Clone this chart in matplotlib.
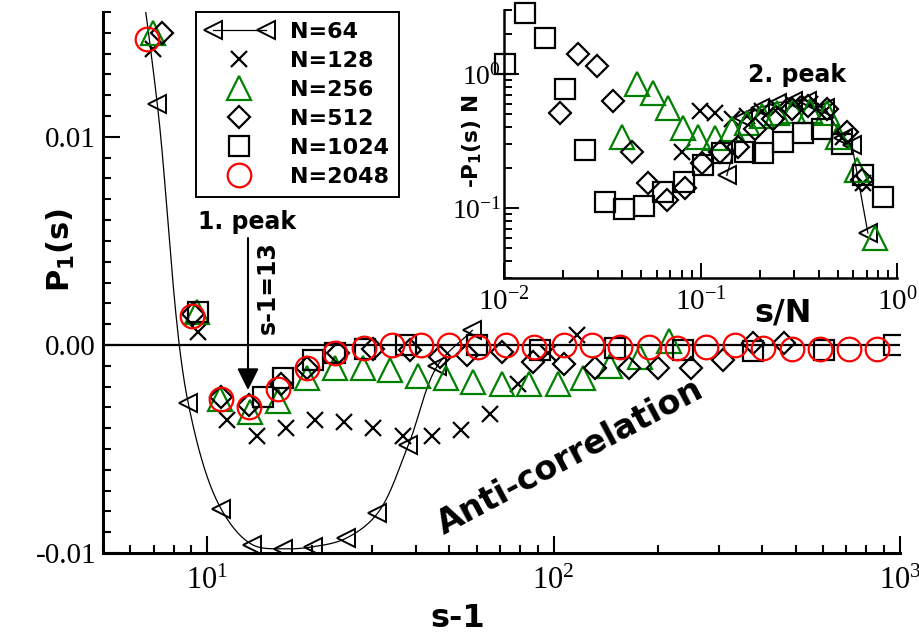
import numpy as np
import matplotlib
matplotlib.use("Agg")
import matplotlib.pyplot as plt
from matplotlib.lines import Line2D
from matplotlib.legend_handler import HandlerLine2D
from matplotlib.ticker import MultipleLocator, FuncFormatter, LogLocator, NullFormatter

plt.rcParams["font.family"] = ["Liberation Serif", "DejaVu Serif"]
plt.rcParams["mathtext.fontset"] = "custom"
plt.rcParams["mathtext.rm"] = "Liberation Serif"
plt.rcParams["mathtext.bf"] = "DejaVu Sans:bold"

# --- main panel: P1(s) against s-1 -------------------------------------------
s64 = [6.0, 7.17, 8.81, 10.98, 13.5, 16.6, 20.2, 25.1, 31.0, 38.1, 46.2, 58.3]
p64 = [0.0215, 0.0116, -0.0028, -0.0079, -0.0096, -0.0098, -0.0097, -0.0093,
       -0.0081, -0.0048, -0.0010, 0.0007]

s128 = [6.98, 9.42, 11.4, 13.9, 16.9, 20.5, 24.9, 30.2, 36.8, 44.7, 53.9, 65.7,
        79.1, 96.1, 117]
p128 = [0.0142, 0.0006, -0.0036, -0.0044, -0.0040, -0.0036, -0.0037, -0.0040,
        -0.0044, -0.0044, -0.0041, -0.0033, -0.0019, -0.0004, 0.0005]

s256 = [6.98, 9.36, 10.9, 13.3, 16.0, 19.45, 23.4, 28.1, 33.8, 40.7, 48.8, 58.7,
        71.2, 84.7, 103, 122, 146, 178, 215]
p256 = [0.0150, 0.0016, -0.0026, -0.0032, -0.0027, -0.0016, -0.0011, -0.0011,
        -0.0012, -0.0015, -0.0016, -0.0018, -0.0019, -0.0019, -0.0019, -0.0016,
        -0.0010, -0.0006, 0.0002]

s512 = [7.41, 9.11, 10.98, 13.23, 16.3, 19.45, 23.9, 30.2, 38.6, 47.1, 56.4, 71.2,
        87.5, 107, 132, 165, 201, 249, 308, 378, 462]
p512 = [0.0150, 0.0015, -0.0025, -0.0029, -0.0019, -0.0011, -0.0004, -0.0002,
        -0.00024, -0.0006, -0.0005, -0.00034, -0.0008, -0.0009, -0.0011, -0.0011,
        -0.0011, -0.0011, -0.0007, 0.0001, 0.0001]

s1024 = [9.4, 14.5, 16.6, 20.2, 23.4, 28.6, 37.4, 60.3, 91.7, 151, 236, 378, 603, 961]
p1024 = [0.0016, -0.0025, -0.0016, -0.0007, -0.0004, -0.0002, 0.0, 0.0, -0.00024,
         -0.00015, -0.00024, -0.0003, -0.00024, 0.0]

s2048 = [6.7, 9.05, 10.98, 13.2, 16.0, 19.4, 23.4, 28.3, 34.2, 41.4, 50, 60.5, 73,
         88, 107, 129, 156, 189, 228, 276, 334, 404, 488, 590, 713, 862]
p2048 = [0.0147, 0.0014, -0.0026, -0.0030, -0.0021, -0.0011, -0.0004, -0.00015,
         0.0, 0.0, 0.0, -0.0001, 0.0, -0.0001, 0.0, 0.0, -0.0001, -0.0001, -0.00015,
         -0.0001, 0.0, -0.00015, -0.0002, -0.0002, -0.0002, -0.0002]

# --- inset: -P1(s) N against s/N ---------------------------------------------
sn64 = [0.136, 0.164, 0.20, 0.245, 0.296, 0.348, 0.43, 0.531, 0.59, 0.711]
pn64 = [0.175, 0.472, 0.56, 0.61, 0.63, 0.63, 0.56, 0.33, 0.293, 0.065]

sn128 = [0.0806, 0.0994, 0.119, 0.145, 0.172, 0.206, 0.248, 0.296, 0.361, 0.43,
         0.531, 0.671]
pn128 = [0.26, 0.532, 0.514, 0.464, 0.489, 0.532, 0.56, 0.60, 0.60, 0.532, 0.336, 0.153]

sn256 = [0.0399, 0.0476, 0.0573, 0.0684, 0.0815, 0.097, 0.119, 0.145, 0.172, 0.206,
         0.245, 0.296, 0.361, 0.44, 0.501, 0.626, 0.772]
pn256 = [0.336, 0.843, 0.723, 0.56, 0.398, 0.336, 0.33, 0.39, 0.434, 0.489, 0.514,
         0.532, 0.532, 0.514, 0.336, 0.191, 0.06]

sn512 = [0.0193, 0.0238, 0.0297, 0.0359, 0.0448, 0.054, 0.0676, 0.0835, 0.102, 0.126,
         0.155, 0.189, 0.234, 0.292, 0.352, 0.44, 0.557, 0.664]
pn512 = [0.514, 1.41, 1.15, 0.63, 0.26, 0.153, 0.115, 0.141, 0.216, 0.26, 0.283,
         0.39, 0.464, 0.55, 0.58, 0.55, 0.366, 0.161]

sn1024 = [0.0101, 0.0128, 0.0162, 0.0204, 0.0258, 0.0327, 0.0408, 0.0516, 0.0644,
          0.0824, 0.103, 0.129, 0.168, 0.208, 0.263, 0.333, 0.415, 0.525, 0.671, 0.849]
pn1024 = [1.19, 2.83, 1.85, 0.774, 0.269, 0.111, 0.098, 0.103, 0.131, 0.156, 0.208,
          0.255, 0.26, 0.255, 0.308, 0.36, 0.39, 0.30, 0.175, 0.12]

labels = ["N=64", "N=128", "N=256", "N=512", "N=1024", "N=2048"]

GREEN = "#008000"
RED = "#ff0000"
SANS = dict(family="DejaVu Sans", weight="bold")

styles = {
    "N=64": dict(marker="<", ms=13, mfc="none", mec="k", mew=1.4),
    "N=128": dict(marker="x", ms=11, mec="k", mew=1.6),
    "N=256": dict(marker="^", ms=17, mfc="none", mec=GREEN, mew=1.6),
    "N=512": dict(marker="D", ms=11, mfc="none", mec="k", mew=1.6),
    "N=1024": dict(marker="s", ms=15, mfc="none", mec="k", mew=1.6),
    "N=2048": dict(marker="o", ms=17, mfc="none", mec=RED, mew=1.6),
}


def catmull_rom(P, n=24, alpha=0.5):
    """Centripetal Catmull-Rom through display-space points (smooth N=64 curve)."""
    P = np.vstack([2 * P[0] - P[1], P, 2 * P[-1] - P[-2]])
    out = []
    for i in range(len(P) - 3):
        p0, p1, p2, p3 = P[i:i + 4]
        t0 = 0.0
        t1 = t0 + np.linalg.norm(p1 - p0) ** alpha
        t2 = t1 + np.linalg.norm(p2 - p1) ** alpha
        t3 = t2 + np.linalg.norm(p3 - p2) ** alpha
        t = np.linspace(t1, t2, n, endpoint=False)[:, None]
        a1 = (t1 - t) / (t1 - t0) * p0 + (t - t0) / (t1 - t0) * p1
        a2 = (t2 - t) / (t2 - t1) * p1 + (t - t1) / (t2 - t1) * p2
        a3 = (t3 - t) / (t3 - t2) * p2 + (t - t2) / (t3 - t2) * p3
        b1 = (t2 - t) / (t2 - t0) * a1 + (t - t0) / (t2 - t0) * a2
        b2 = (t3 - t) / (t3 - t1) * a2 + (t - t1) / (t3 - t1) * a3
        out.append((t2 - t) / (t2 - t1) * b1 + (t - t1) / (t2 - t1) * b2)
    out.append(P[-2][None])
    return np.vstack(out)


def style_axes(ax, spine_w, major_len, minor_len, tick_w, pad, size):
    for side in ("top", "right"):
        ax.spines[side].set_visible(False)
    for side in ("left", "bottom"):
        ax.spines[side].set_linewidth(spine_w)
    ax.tick_params(which="both", direction="in", top=False, right=False,
                   width=tick_w, labelsize=size, pad=pad)
    ax.tick_params(which="major", length=major_len)
    ax.tick_params(which="minor", length=minor_len)


fig = plt.figure(figsize=(9.2, 6.42), dpi=100)
ax = fig.add_axes([0.112, 0.1386, 0.866, 0.8427])

ax.set_xscale("log")
ax.set_xlim(5, 1000)
ax.set_ylim(-0.01, 0.016)
ax.yaxis.set_major_locator(MultipleLocator(0.01))
ax.yaxis.set_minor_locator(MultipleLocator(0.001))
ax.yaxis.set_major_formatter(FuncFormatter(lambda v, _: "%.2f" % v if abs(v) > 1e-9 else "0.00"))
ax.xaxis.set_major_locator(LogLocator(base=10))
ax.xaxis.set_minor_locator(LogLocator(base=10, subs=np.arange(2, 10)))
ax.xaxis.set_minor_formatter(NullFormatter())
style_axes(ax, 2.2, 12, 6, 1.5, 10, 22)
ax.tick_params(axis="y", pad=5, labelsize=21)

ax.axhline(0, color="k", lw=1.6, zorder=1.5)

# N=64 drawn as a smooth curve through its points, like the original plot
pts = ax.transData.transform(np.column_stack([s64, p64]))
curve = ax.transData.inverted().transform(catmull_rom(pts))
ax.plot(curve[:, 0], curve[:, 1], color="k", lw=0.9, zorder=2)

main_series = [(s64, p64), (s128, p128), (s256, p256), (s512, p512),
               (s1024, p1024), (s2048, p2048)]
for lab, (xs, ys) in zip(labels, main_series):
    ax.plot(xs, ys, ls="none", zorder=3, **styles[lab])

# legend: N=64 shows the line with a marker at each end, the rest a single marker
handles = [Line2D([], [], color="k", lw=0.9, label=labels[0], **styles[labels[0]])]
handles += [Line2D([], [], ls="none", label=lab, **styles[lab]) for lab in labels[1:]]
hmap = {h: HandlerLine2D(numpoints=1) for h in handles[1:]}
leg = ax.legend(handles=handles, handler_map=hmap, numpoints=2, loc="upper left",
                bbox_to_anchor=(0.213, 0.981), bbox_transform=fig.transFigure,
                borderaxespad=0, prop=dict(size=16, **SANS), frameon=True,
                fancybox=False, edgecolor="k", framealpha=1, handlelength=3.0,
                handletextpad=0.8, labelspacing=0.4, borderpad=0.45)
leg.get_frame().set_linewidth(1.4)

fig.text(0.066, 0.611, r"P$_\mathbf{1}$(s)", rotation=90, ha="center", va="center",
         fontsize=22, **SANS)
fig.text(0.498, 0.037, "s-1", ha="center", va="center", fontsize=23, **SANS)

fig.text(247 / 920, 1 - 222 / 642, "1. peak", ha="center", va="center", fontsize=17, **SANS)
fig.text(268 / 920, 1 - 288 / 642, "s-1=13", rotation=90, ha="center", va="center",
         fontsize=17, **SANS)
ax.annotate("", xy=(248 / 920, 1 - 390 / 642), xytext=(248 / 920, 1 - 238 / 642),
            xycoords="figure fraction", textcoords="figure fraction",
            arrowprops=dict(arrowstyle="-|>,head_length=0.6,head_width=0.3",
                            mutation_scale=22, color="k", lw=1.5,
                            shrinkA=0, shrinkB=0))
fig.text(570 / 920, 1 - 457 / 642, "Anti-correlation", rotation=28, ha="center",
         va="center", fontsize=24, **SANS)

# --- inset --------------------------------------------------------------------
ins = fig.add_axes([0.548, 0.567, 0.427, 0.4174], facecolor="none")
ins.set_xscale("log")
ins.set_yscale("log")
ins.set_xlim(0.01, 1)
ins.set_ylim(0.03, 3)
for a in (ins.xaxis, ins.yaxis):
    a.set_major_locator(LogLocator(base=10))
    a.set_minor_locator(LogLocator(base=10, subs=np.arange(2, 10)))
    a.set_minor_formatter(NullFormatter())
style_axes(ins, 1.8, 11, 5.5, 1.4, 7, 21)
ins.tick_params(axis="y", pad=2, labelsize=20)

ins.plot(sn64, pn64, color="k", lw=0.9, zorder=2)
inset_series = [(sn64, pn64), (sn128, pn128), (sn256, pn256), (sn512, pn512),
                (sn1024, pn1024)]
for lab, (xs, ys) in zip(labels, inset_series):
    ins.plot(xs, ys, ls="none", zorder=3, clip_on=False, **styles[lab])

fig.text(472 / 920, 1 - 141 / 642, r"-P$_\mathbf{1}$(s) N", rotation=90, ha="center",
         va="center", fontsize=15.5, **SANS)
fig.text(783 / 920, 1 - 313 / 642, "s/N", ha="center", va="center", fontsize=23, **SANS)
fig.text(797 / 920, 1 - 75 / 642, "2. peak", ha="center", va="center", fontsize=17, **SANS)

fig.savefig("out.png", dpi=100)
